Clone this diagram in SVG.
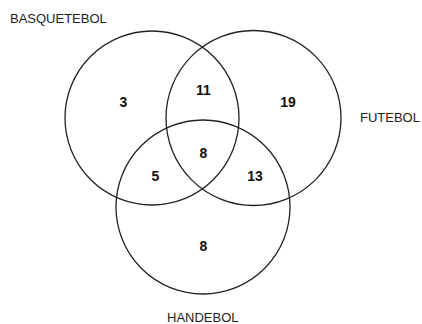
<svg xmlns="http://www.w3.org/2000/svg" width="422" height="324" viewBox="0 0 422 324">
<style>
.c{fill:none;stroke:#222;stroke-width:1.3}
.l{font-family:"Liberation Sans",Arial,sans-serif;font-size:13px;fill:#222}
.n{font-family:"Liberation Sans",Arial,sans-serif;font-size:14px;font-weight:bold;fill:#111;text-anchor:middle}
</style>
<rect width="422" height="324" fill="#fff"/>
<g id="basquetebol">
<circle class="c" cx="152" cy="118" r="87"/>
<text class="l" x="10" y="23">BASQUETEBOL</text>
</g>
<g id="futebol">
<circle class="c" cx="253.5" cy="118" r="87.5"/>
<text class="l" x="360" y="122">FUTEBOL</text>
</g>
<g id="handebol">
<circle class="c" cx="203" cy="207" r="87"/>
<text class="l" x="167" y="322">HANDEBOL</text>
</g>
<g id="connectors"></g>
<g id="values">
<text class="n" x="123.5" y="107">3</text>
<text class="n" x="203.5" y="95">11</text>
<text class="n" x="288" y="107">19</text>
<text class="n" x="203.5" y="158">8</text>
<text class="n" x="155.5" y="181">5</text>
<text class="n" x="255" y="181">13</text>
<text class="n" x="203.5" y="251">8</text>
</g>
</svg>
